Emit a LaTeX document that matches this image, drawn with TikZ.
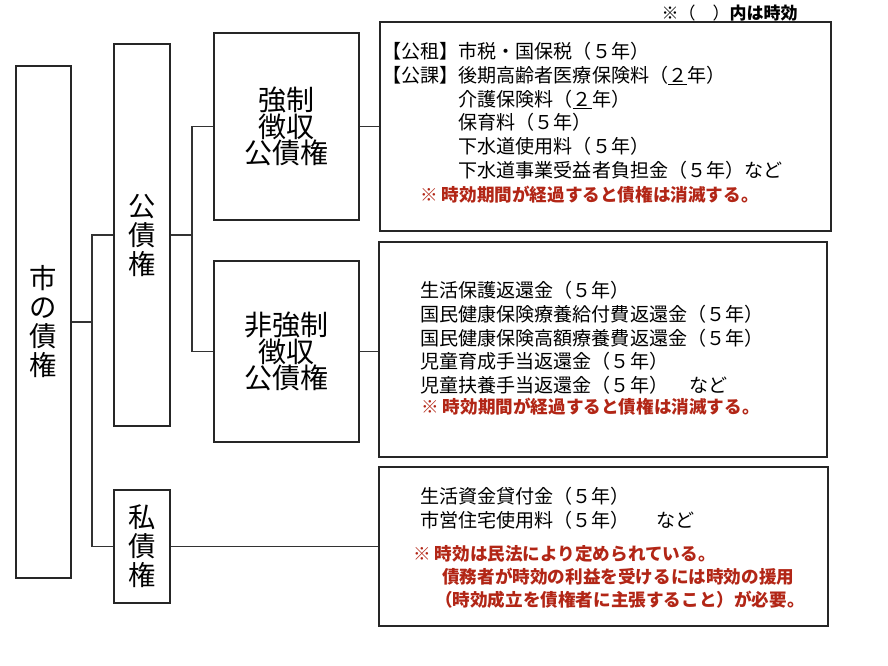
\documentclass[tikz,border=0pt]{standalone}
\usepackage{fontspec}
\setmainfont{Noto Sans CJK JP}
\usepackage{xcolor}
\usepackage{tikz}
\definecolor{notered}{RGB}{178,38,22}
\setlength{\lineskiplimit}{-20pt}
\tikzstyle{link} = [draw=black!80, line width=0.8pt]

\begin{document}
\begin{tikzpicture}[x=0.75pt,y=-0.75pt]
    \tikzset{process/.style = {draw=black!85, shape=rectangle, line width=1pt, inner sep=0pt, align=center, font=\fontsize{20.5}{21.75}\selectfont},
    items/.style = {anchor=north west, inner sep=0pt, align=left, font=\fontsize{14.3}{17.8}\selectfont},
    remark/.style = {anchor=north west, inner sep=0pt, align=left, text=notered, font=\fontsize{13.2}{17.25}\selectfont\bfseries}}
\useasboundingbox (0,0) rectangle (888,666);

\node (limitnote) [anchor=east, inner sep=0pt, font=\fontsize{12.75}{15}\selectfont] at (798,13) {※（　）\textbf{内は時効}};

\node (city) [process, minimum width=41.25pt, minimum height=384pt] at (43.5,322) {市\\の\\債\\権};
\node (public) [process, minimum width=42pt, minimum height=286.5pt] at (142,235) {公\\債\\権};
\node (private) [process, minimum width=42pt, minimum height=84.75pt] at (142,546.5) {私\\債\\権};
\node (forced) [process, minimum width=108.75pt, minimum height=140.25pt, font=\fontsize{21}{20}\selectfont] at (286.5,126.5) {強制\\徴収\\公債権};
\node (nonforced) [process, minimum width=108.75pt, minimum height=135.75pt, font=\fontsize{21}{20}\selectfont] at (286.5,351.5) {非強制\\徴収\\公債権};

\node (upperlist) [process, minimum width=338.25pt, minimum height=156.75pt] at (605.5,126.5) {};
\node (lowerlist) [process, minimum width=336pt, minimum height=161.25pt] at (603,349.5) {};
\node (privlist) [process, minimum width=336.75pt, minimum height=119.25pt] at (603.5,546.5) {};

\node (upperitems) [items] at (382,42) {【公租】市税・国保税（５年）\\
【公課】後期高齢者医療保険料（\underline{２}年）\\
\phantom{【公課】}介護保険料（\underline{２}年）\\
\phantom{【公課】}保育料（５年）\\
\phantom{【公課】}下水道使用料（５年）\\
\phantom{【公課】}下水道事業受益者負担金（５年）など};
\node (upperremark) [remark] at (420,185.5) {※ 時効期間が経過すると債権は消滅する。};

\node (loweritems) [items] at (420,281) {生活保護返還金（５年）\\
国民健康保険療養給付費返還金（５年）\\
国民健康保険高額療養費返還金（５年）\\
児童育成手当返還金（５年）\\
児童扶養手当返還金（５年）\hspace{1.1em}など};
\node (lowerremark) [remark] at (421,397.5) {※ 時効期間が経過すると債権は消滅する。};

\node (privitems) [items] at (420,487) {生活資金貸付金（５年）\\
市営住宅使用料（５年）\hspace{1.4em}など};
\node (privremark) [remark] at (413,545) {※ 時効は民法により定められている。\\
\hspace{1.65em}債務者が時効の利益を受けるには時効の援用\\
\hspace{1.24em}（時効成立を債権者に主張すること）が必要。};

\coordinate (ajoint) at (92,322);
\coordinate (bjoint) at (192,235);
\draw [link] (city.east) -- (ajoint);
\draw [link] (public.west) -| (ajoint) |- (private.west);
\draw [link] (public.east) -- (bjoint);
\draw [link] (forced.west) -| (bjoint) |- (nonforced.west);
\draw [link] (forced.east) -- (upperlist.west);
\draw [link] (nonforced.east) -- (nonforced.east -| lowerlist.west);
\draw [link] (private.east) -- (privlist.west);

\end{tikzpicture}
\end{document}
